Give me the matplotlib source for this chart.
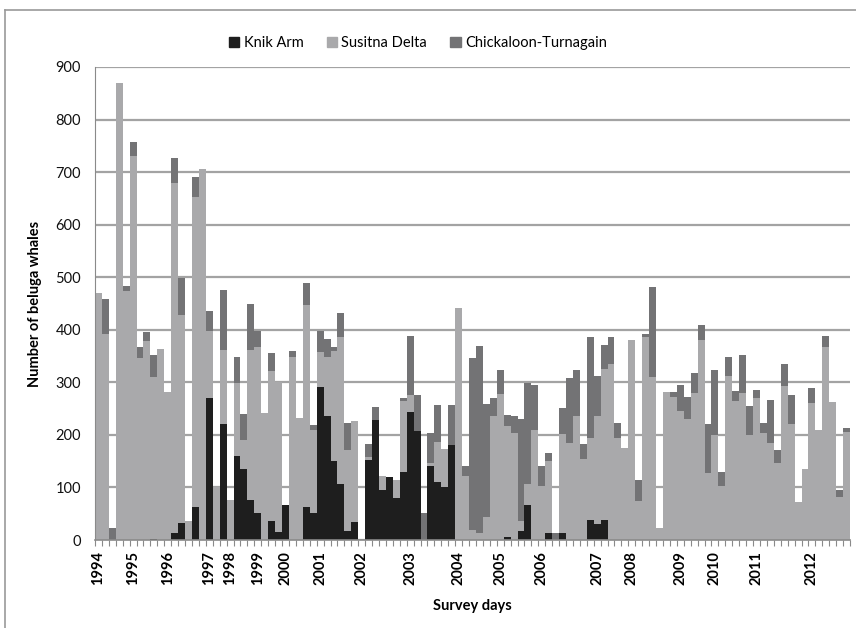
import matplotlib
matplotlib.use("Agg")
import matplotlib.pyplot as plt
from matplotlib.lines import Line2D
from matplotlib.patches import Patch
import numpy as np

plt.rcParams['font.family'] = ['Lato', 'DejaVu Sans']

# whale counts per survey day, by area
knik_arm = [0, 0, 0, 0, 0, 0, 0, 0, 2, 0, 0, 14, 33, 0, 62, 0, 270, 0, 221, 0,
            160, 136, 76, 52, 0, 37, 15, 67, 0, 0, 62, 52, 291, 236, 151, 106, 17, 34, 0, 152,
            228, 96, 119, 79, 130, 244, 208, 0, 141, 111, 100, 181, 0, 0, 0, 0, 0, 0, 0, 6,
            0, 17, 67, 0, 0, 13, 0, 13, 0, 0, 0, 39, 30, 39, 0, 0, 0, 0, 0, 0,
            0, 0, 0, 0, 0, 0, 0, 0, 0, 0, 0, 0, 0, 0, 0, 0, 0, 0, 0, 0,
            0, 0, 0, 0, 0, 0, 0, 0, 0]
susitna_delta = [470, 392, 0, 870, 473, 730, 346, 379, 308, 364, 281, 665, 395, 36, 591, 706, 127, 100, 141, 77,
                 139, 54, 286, 315, 242, 285, 285, 0, 348, 232, 385, 157, 67, 112, 209, 281, 154, 193, 0, 5,
                 0, 26, 0, 35, 135, 32, 0, 0, 6, 76, 73, 0, 441, 121, 19, 13, 44, 235, 278, 210,
                 204, 20, 40, 209, 102, 138, 0, 189, 185, 235, 155, 156, 205, 287, 335, 194, 175, 381, 75, 386,
                 311, 22, 282, 273, 246, 230, 279, 381, 128, 199, 102, 312, 265, 279, 199, 270, 203, 185, 147, 293,
                 221, 73, 136, 260, 209, 368, 263, 82, 206]
chickaloon = [0, 66, 23, 0, 11, 28, 21, 16, 42, 0, 0, 48, 70, 0, 37, 0, 38, 0, 113, 0,
              49, 50, 88, 30, 0, 33, 0, 0, 12, 0, 42, 10, 39, 34, 7, 44, 52, 0, 0, 26,
              26, 0, 0, 0, 5, 113, 68, 52, 57, 70, 0, 76, 0, 20, 328, 356, 215, 35, 46, 22,
              31, 193, 191, 86, 38, 15, 13, 50, 123, 89, 28, 191, 77, 45, 51, 29, 0, 0, 40, 6,
              170, 0, 0, 9, 49, 42, 39, 29, 93, 125, 28, 36, 19, 73, 56, 16, 20, 81, 24, 42,
              54, 0, 0, 29, 0, 20, 0, 14, 7]

year_labels = ['1994', '1995', '1996', '1997', '1998', '1999', '2000', '2001', '2002', '2003',
               '2004', '2005', '2006', '2007', '2008', '2009', '2010', '2011', '2012']
year_pos = [0, 5, 10, 16, 19, 23, 27, 32, 38, 45, 52, 58, 64, 72, 77, 84, 89, 95, 103]

c_knik = '#1e1e1e'
c_sus = '#a9a9ab'
c_chick = '#737375'

knik = np.array(knik_arm)
sus = np.array(susitna_delta)
chick = np.array(chickaloon)
x = np.arange(len(knik))

fig = plt.figure(figsize=(8.56, 6.28), dpi=100)
ax = fig.add_axes([95 / 856, 1 - 540 / 628, 755 / 856, (540 - 67) / 628])

ax.bar(x, knik, width=1.0, color=c_knik, linewidth=0)
ax.bar(x, sus, width=1.0, bottom=knik, color=c_sus, linewidth=0)
ax.bar(x, chick, width=1.0, bottom=knik + sus, color=c_chick, linewidth=0)

ax.set_xlim(-0.5, len(x) - 0.5)
ax.set_ylim(0, 900)
ax.set_yticks(range(0, 901, 100))
ax.yaxis.grid(True, color='#a3a3a3', linewidth=1.6)
ax.set_axisbelow(True)
ax.tick_params(axis='y', length=0, pad=10, labelsize=10.5, labelcolor='#111111')

ax.set_xticks(year_pos)
ax.set_xticklabels(year_labels, rotation=90, fontweight='bold', fontsize=10.5)
ax.set_xticks(np.arange(-0.5, len(x), 1), minor=True)
ax.tick_params(axis='x', which='major', length=0, pad=8)
ax.tick_params(axis='x', which='minor', length=4, width=0.8, color='#8a8a8a')

for side in ['top', 'right']:
    ax.spines[side].set_visible(False)
ax.spines['left'].set_color('#8a8a8a')
ax.spines['bottom'].set_color('#8a8a8a')
ax.spines['bottom'].set_linewidth(1.2)

ax.set_ylabel('Number of beluga whales', fontweight='bold', fontsize=10.5, labelpad=10)
ax.set_xlabel('Survey days', fontweight='bold', fontsize=10.5, labelpad=10)

handles = [Patch(color=c_knik), Patch(color=c_sus), Patch(color=c_chick)]
fig.legend(handles, ['Knik Arm', 'Susitna Delta', 'Chickaloon-Turnagain'],
           loc='center', bbox_to_anchor=(418 / 856, 1 - 43 / 628), ncol=3,
           frameon=False, fontsize=10.5, handlelength=0.7, handleheight=0.7,
           handletextpad=0.3, columnspacing=1.6)

# chart border
fig.add_artist(Line2D([5 / 856, 1], [1 - 10 / 628] * 2, color='#9a9a9a', linewidth=1.2))
fig.add_artist(Line2D([5 / 856] * 2, [0, 1 - 10 / 628], color='#9a9a9a', linewidth=1.2))

fig.savefig('out.png', dpi=100)
